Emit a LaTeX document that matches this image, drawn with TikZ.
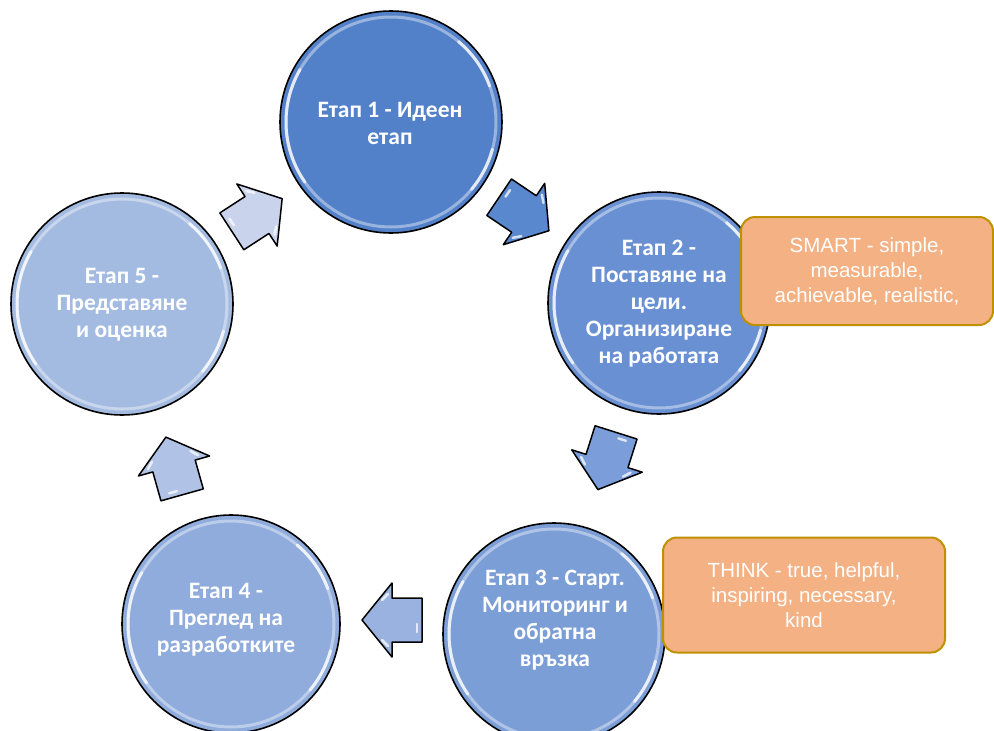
\documentclass[tikz,border=0pt]{standalone}
\usepackage{fontspec}
\setmainfont{Liberation Sans}
\newfontfamily\stagefont{Carlito}
\definecolor{cA}{HTML}{5381C9}
\definecolor{cB}{HTML}{6990D2}
\definecolor{cC}{HTML}{7C9ED7}
\definecolor{cD}{HTML}{8FACDC}
\definecolor{cE}{HTML}{A4BBE1}
\definecolor{aA}{HTML}{5A88CF}
\definecolor{aB}{HTML}{7B9EDA}
\definecolor{aC}{HTML}{9AB2DF}
\definecolor{aD}{HTML}{B0C2E5}
\definecolor{aE}{HTML}{C9D3EC}
\definecolor{notefill}{HTML}{F4B183}
\definecolor{notegold}{HTML}{BF9000}
\tikzset{
  stage/.style={circle, draw=black, line width=1.6pt, minimum size=#1, inner sep=0pt},
  stagetext/.style={text=white, align=center, inner sep=0pt,
    font=\stagefont\bfseries\fontsize{23.5}{27}\selectfont},
  rim/.style={white, line width=3pt, opacity=0.4},
  rimhi/.style={white, line width=3pt, opacity=0.75, line cap=round},
  blockarr/.style={draw=black, line width=1.5pt, line join=round},
  arrhi/.style={white, line width=2.5pt, opacity=0.75, line cap=round},
  note/.style={draw=notegold, fill=notefill, line width=2pt, rounded corners=14pt,
    text=white, align=center, inner sep=0pt,
    font=\fontsize{20.5}{25}\selectfont}
}
\newcommand{\bevel}[2]{%
  \draw[rim] (#1.center) circle (#2);
  \draw[rimhi] ([shift={(150:#2)}]#1.center) arc (150:215:#2);
  \draw[rimhi] ([shift={(20:#2)}]#1.center) arc (20:50:#2);
  \draw[rimhi] ([shift={(-40:#2)}]#1.center) arc (-40:-15:#2);
}
\newcommand{\blockarrow}[3]{%
  \begin{scope}[shift={(#1)}, rotate=#2]
    \draw[blockarr, fill=#3] (-30pt,-22pt) -- (0pt,-22pt) -- (0pt,-37pt) -- (30pt,0pt)
      -- (0pt,37pt) -- (0pt,22pt) -- (-30pt,22pt) -- cycle;
    \draw[arrhi] (-25pt,12pt) -- (-25pt,4pt);
    \draw[arrhi] (4pt,-26pt) -- (10pt,-20pt);
    \draw[arrhi] (4pt,26pt) -- (10pt,20pt);
  \end{scope}}
\begin{document}
\begin{tikzpicture}[x=1pt,y=-1pt]
\useasboundingbox[fill=white] (0,0) rectangle (994,731);
\clip (0,0) rectangle (994,731);

% stages
\node[stage=222pt, fill=cA] (s1) at (391,122) {};
\node[stage=222pt, fill=cB] (s2) at (659,303) {};
\node[stage=222pt, fill=cC] (s3) at (554,634) {};
\node[stage=218pt, fill=cD] (s4) at (231,624) {};
\node[stage=222pt, fill=cE] (s5) at (122,304) {};
\bevel{s1}{105pt}
\bevel{s2}{105pt}
\bevel{s3}{105pt}
\bevel{s4}{103pt}
\bevel{s5}{105pt}

\node[stagetext] (t1) at (390,123) {Етап 1 - Идеен\\етап};
\node[stagetext] (t2) at (659,304) {Етап 2 -\\Поставяне на\\цели.\\Организиране\\на работата};
\node[stagetext] (t3) at (555,620) {Етап 3 - Старт.\\Мониторинг и\\обратна\\връзка};
\node[stagetext] (t4) at (226,620) {Етап 4 -\\Преглед на\\разработките};
\node[stagetext] (t5) at (122,305) {Етап 5 -\\Представяне\\и оценка};

% arrows
\coordinate (a12) at (524,214);
\coordinate (a23) at (607,461);
\coordinate (a34) at (392,620);
\coordinate (a45) at (174,466);
\coordinate (a51) at (257,215);
\blockarrow{a12}{-34}{aA}
\blockarrow{a23}{-107.6}{aB}
\blockarrow{a34}{180}{aC}
\blockarrow{a45}{105.7}{aD}
\blockarrow{a51}{33}{aE}

% notes
\node[note, minimum width=252pt, minimum height=108pt] (n1) at (867,271)
  {SMART - simple,\\measurable,\\achievable, realistic,};
\node[note, minimum width=282pt, minimum height=115pt] (n2) at (804,595)
  {THINK - true, helpful,\\inspiring, necessary,\\kind};
\end{tikzpicture}
\end{document}
